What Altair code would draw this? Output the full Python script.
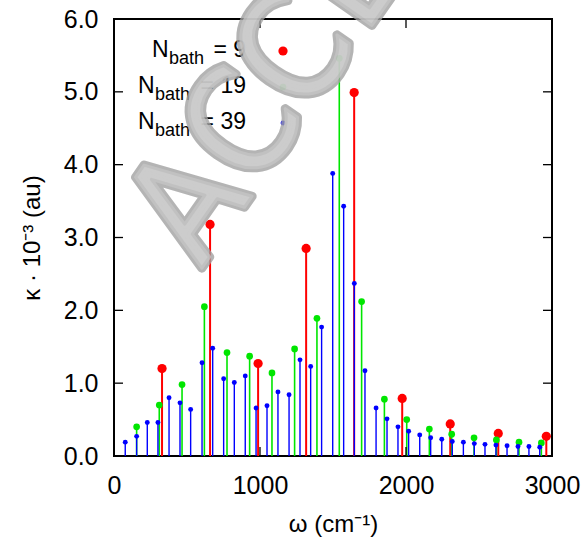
import altair as alt
import pandas as pd
import math

# ---------------- data ----------------
omega_red = [329, 658, 987, 1316, 1645, 1974, 2303, 2632, 2961]
kappa_red = [1.20, 3.18, 1.27, 2.85, 4.99, 0.79, 0.44, 0.31, 0.27]

omega_green = [155, 310, 466, 619, 774, 929, 1082, 1237, 1390, 1543,
               1696, 1852, 2005, 2160, 2313, 2466, 2619, 2774, 2927]
kappa_green = [0.40, 0.70, 0.98, 2.05, 1.42, 1.37, 1.14, 1.47, 1.89, 5.46,
               2.12, 0.78, 0.50, 0.37, 0.30, 0.25, 0.22, 0.19, 0.18]

omega_blue = [77, 155, 228, 301, 377, 452, 525, 603, 676, 751,
              824, 899, 973, 1048, 1123, 1199, 1274, 1347, 1422, 1498,
              1573, 1646, 1719, 1795, 1870, 1945, 2018, 2094, 2169, 2245,
              2317, 2393, 2468, 2541, 2616, 2692, 2767, 2842, 2916]
kappa_blue = [0.19, 0.27, 0.46, 0.46, 0.80, 0.73, 0.64, 1.28, 1.48, 1.06,
              1.01, 1.10, 0.66, 0.69, 0.88, 0.84, 1.32, 1.23, 1.77, 3.88,
              3.43, 2.37, 1.17, 0.66, 0.51, 0.40, 0.34, 0.29, 0.25, 0.23,
              0.20, 0.19, 0.17, 0.16, 0.15, 0.14, 0.13, 0.13, 0.12]

legend_values = ["9", "19", "39"]
x_tick_values = [0, 1000, 2000, 3000]
y_tick_values = [0, 1, 2, 3, 4, 5, 6]
watermark_text = "ACCEPTED"

# ---------------- style ----------------
W, H = 438, 437
FONT = "Liberation Sans"
RED, GREEN, BLUE = "#ff0000", "#00e600", "#0000ff"

xs = alt.Scale(domain=[0, 3000], nice=False, zero=False)
ys = alt.Scale(domain=[0, 6], nice=False, zero=False)

x_axis = alt.Axis(values=x_tick_values, format="d", grid=False, domain=False,
                  ticks=False, tickSize=0, labelFont=FONT, labelFontSize=25,
                  labelColor="black", labelPadding=37, labelBaseline="alphabetic",
                  labelFlush=False, labelOverlap=False,
                  title="ω (cm⁻¹)", titleFont=FONT, titleFontSize=24,
                  titleFontWeight="normal", titleColor="black",
                  titleX=W / 2, titleY=75, titleBaseline="alphabetic",
                  titleAlign="center")
y_axis = alt.Axis(values=y_tick_values, format=".1f", grid=False, domain=False,
                  ticks=False, tickSize=0, labelFont=FONT, labelFontSize=25,
                  labelColor="black", labelPadding=16, labelFlush=False,
                  labelOverlap=False,
                  title="κ · 10⁻³ (au)", titleFont=FONT, titleFontSize=24,
                  titleFontWeight="normal", titleColor="black",
                  titleAngle=270, titleX=-75, titleY=H / 2,
                  titleBaseline="alphabetic", titleAlign="center")


def X(field):
    return alt.X(field, scale=xs, axis=x_axis)


def Y(field):
    return alt.Y(field, scale=ys, axis=y_axis)


def series(omega, kappa, color, size, sw):
    df = pd.DataFrame({"omega": omega, "kappa": kappa})
    base = alt.Chart(df)
    rules = base.mark_rule(color=color, strokeWidth=sw).encode(
        x=X("omega:Q"), y=Y("kappa:Q"), y2=alt.datum(0))
    pts = base.mark_circle(color=color, size=size, opacity=1).encode(
        x=X("omega:Q"), y=Y("kappa:Q"))
    return [rules, pts]


layers = []
layers += series(omega_red, kappa_red, RED, 85, 2)
layers += series(omega_green, kappa_green, GREEN, 45, 1.6)
layers += series(omega_blue, kappa_blue, BLUE, 24, 1.4)

# inward ticks (mirrored on all four sides)
TL = 9
ytk = alt.Chart(pd.DataFrame({"v": y_tick_values[1:-1]}))
xtk = alt.Chart(pd.DataFrame({"v": x_tick_values[1:-1]}))
layers.append(ytk.mark_rule(color="black", strokeWidth=1.3).encode(
    y=Y("v:Q"), x=alt.value(0), x2=alt.value(TL)))
layers.append(ytk.mark_rule(color="black", strokeWidth=1.3).encode(
    y=Y("v:Q"), x=alt.value(W - TL), x2=alt.value(W)))
layers.append(xtk.mark_rule(color="black", strokeWidth=1.3).encode(
    x=X("v:Q"), y=alt.value(H), y2=alt.value(H - TL)))
layers.append(xtk.mark_rule(color="black", strokeWidth=1.3).encode(
    x=X("v:Q"), y=alt.value(0), y2=alt.value(TL)))

# legend (built by hand to get the subscript)
leg_colors = [RED, GREEN, BLUE]
leg_sizes = [85, 45, 24]
row_y = [38, 74, 110]
n_left = [38, 24, 24]
right_edge = 132
sym_x = 169
for i, val in enumerate(legend_values):
    one = alt.Chart(pd.DataFrame({"k": [0]}))
    layers.append(one.mark_text(text="N", font=FONT, fontSize=23, color="black",
                                align="left", baseline="alphabetic").encode(
        x=alt.value(n_left[i]), y=alt.value(row_y[i])))
    layers.append(one.mark_text(text="bath", font=FONT, fontSize=18, color="black",
                                align="left", baseline="alphabetic").encode(
        x=alt.value(n_left[i] + 17), y=alt.value(row_y[i] + 7)))
    layers.append(one.mark_text(text="= " + val, font=FONT, fontSize=23, color="black",
                                align="right", baseline="alphabetic").encode(
        x=alt.value(right_edge), y=alt.value(row_y[i])))
    layers.append(one.mark_circle(color=leg_colors[i], size=leg_sizes[i], opacity=1).encode(
        x=alt.value(sym_x), y=alt.value(row_y[i] - 6)))

# watermark (letters placed along a rotated baseline, drawn as shaded "tubes")
ang = math.radians(-55)
rx, ry = math.cos(ang), math.sin(ang)
start_x, start_y = 77, 188
steps = [0, 96, 90, 95, 90, 88, 80, 92]
pos = 0
wm_rows = []
for ch, st in zip(watermark_text, steps):
    pos += st
    wm_rows.append({"ch": ch, "px": start_x + rx * pos, "py": start_y + ry * pos})
wm_base = alt.Chart(pd.DataFrame(wm_rows))
wm_enc = dict(x=alt.X("px:Q", scale=None), y=alt.Y("py:Q", scale=None), text="ch:N")
wm_font = dict(font="DejaVu Sans Condensed", fontSize=146, angle=305,
               align="center", baseline="middle", strokeJoin="round")
layers.append(wm_base.mark_text(fill="#a2a2a2", stroke="#a2a2a2", strokeWidth=9,
                                opacity=0.8, **wm_font).encode(**wm_enc))
layers.append(wm_base.mark_text(fill="#d4d4d4", stroke="#c6c6c6", strokeWidth=3,
                                opacity=0.75, **wm_font).encode(**wm_enc))

chart = alt.layer(*layers).properties(
    width=W, height=H,
    padding={"left": 114, "top": 19, "right": 36, "bottom": 84},
    autosize=alt.AutoSizeParams(type="none"),
).configure_view(stroke="black", strokeWidth=2)

chart.save("out.html", embed_options={"renderer": "svg", "actions": False})
